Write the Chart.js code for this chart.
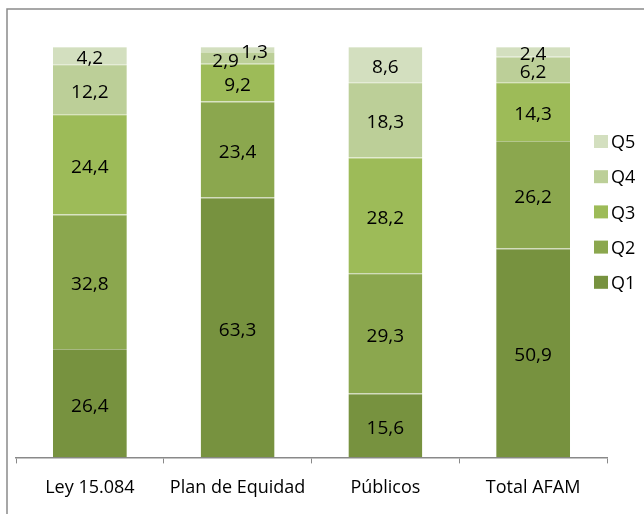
<!DOCTYPE html>
<html>
<head>
<meta charset="utf-8">
<script src="https://cdn.jsdelivr.net/npm/chart.js@4"></script>
<style>
  html, body { margin: 0; padding: 0; background: #ffffff; }
  #wrap { width: 644px; height: 514px; position: relative; }
</style>
</head>
<body>
<div id="wrap"><canvas id="quintilesChart" width="644" height="514"></canvas></div>
<script>
var categories = ['Ley 15.084', 'Plan de Equidad', 'Públicos', 'Total AFAM'];
var seriesNames = ['Q1', 'Q2', 'Q3', 'Q4', 'Q5'];
var q1 = [26.4, 63.3, 15.6, 50.9];
var q2 = [32.8, 23.4, 29.3, 26.2];
var q3 = [24.4, 9.2, 28.2, 14.3];
var q4 = [12.2, 2.9, 18.3, 6.2];
var q5 = [4.2, 1.3, 8.6, 2.4];
var seriesColors = ['#77923f', '#8ba74e', '#9dbb58', '#bccf98', '#d3dfbf'];

// small nudges for labels that would otherwise collide in thin segments
var labelNudge = { '1-3': [-12, 1], '1-4': [17, 0] };

function fmt(v) { return v.toFixed(1).replace('.', ','); }

// lighter tint of a hex colour, used for the thin separator at the top of each segment
function tint(hex, amt) {
    var n = parseInt(hex.slice(1), 16);
    var r = (n >> 16) & 255, g = (n >> 8) & 255, b = n & 255;
    r = Math.round(r + (255 - r) * amt);
    g = Math.round(g + (255 - g) * amt);
    b = Math.round(b + (255 - b) * amt);
    return 'rgb(' + r + ',' + g + ',' + b + ')';
}

var frameBox = {
    id: 'frameBox',
    beforeDraw: function (chart) {
        var ctx = chart.ctx;
        ctx.save();
        ctx.strokeStyle = '#8a8a8a';
        ctx.lineWidth = 1.5;
        ctx.strokeRect(7, 9, 700, 600);
        ctx.restore();
    }
};

var segmentLabels = {
    id: 'segmentLabels',
    afterDatasetsDraw: function (chart) {
        var ctx = chart.ctx;
        ctx.save();
        ctx.font = '19px "Open Sans"';
        ctx.fillStyle = '#000000';
        ctx.textAlign = 'center';
        ctx.textBaseline = 'middle';
        chart.data.datasets.forEach(function (ds, di) {
            var meta = chart.getDatasetMeta(di);
            meta.data.forEach(function (bar, i) {
                var nudge = labelNudge[i + '-' + di] || [0, 0];
                var y = (bar.y + bar.base) / 2 + 3;
                ctx.fillText(fmt(ds.data[i]), bar.x + nudge[0], y + nudge[1]);
            });
        });
        ctx.restore();
    }
};

var sideLegend = {
    id: 'sideLegend',
    afterDraw: function (chart) {
        var ctx = chart.ctx;
        var x = 594, y = 135;
        ctx.save();
        ctx.font = '18px "Open Sans"';
        ctx.textBaseline = 'middle';
        for (var k = chart.data.datasets.length - 1; k >= 0; k--) {
            var ds = chart.data.datasets[k];
            ctx.fillStyle = ds.backgroundColor;
            ctx.fillRect(x, y, 14, 13);
            ctx.fillStyle = '#000000';
            ctx.fillText(ds.label, x + 17, y + 8);
            y += 35.2;
        }
        ctx.restore();
    }
};

var seriesData = [q1, q2, q3, q4, q5];
var datasets = seriesData.map(function (vals, i) {
    return {
        label: seriesNames[i],
        data: vals,
        backgroundColor: seriesColors[i],
        borderColor: tint(seriesColors[i], 0.35),
        borderWidth: { top: 1, left: 0, right: 0, bottom: 0 },
        borderSkipped: false,
        barPercentage: 1,
        categoryPercentage: 0.5
    };
});

new Chart(document.getElementById('quintilesChart'), {
    type: 'bar',
    data: { labels: categories, datasets: datasets },
    options: {
        responsive: false,
        animation: false,
        layout: { padding: { left: 16, right: 37, top: 47, bottom: 1 } },
        plugins: { legend: { display: false }, tooltip: { enabled: false } },
        scales: {
            x: {
                stacked: true,
                grid: { drawOnChartArea: false, color: '#898989', tickLength: 6, offset: true },
                border: { color: '#898989', width: 1.5 },
                ticks: { color: '#000000', font: { family: 'Open Sans', size: 18 }, padding: 14 }
            },
            y: {
                stacked: true,
                display: false,
                min: 0,
                max: 100
            }
        }
    },
    plugins: [frameBox, segmentLabels, sideLegend]
});
</script>
</body>
</html>
